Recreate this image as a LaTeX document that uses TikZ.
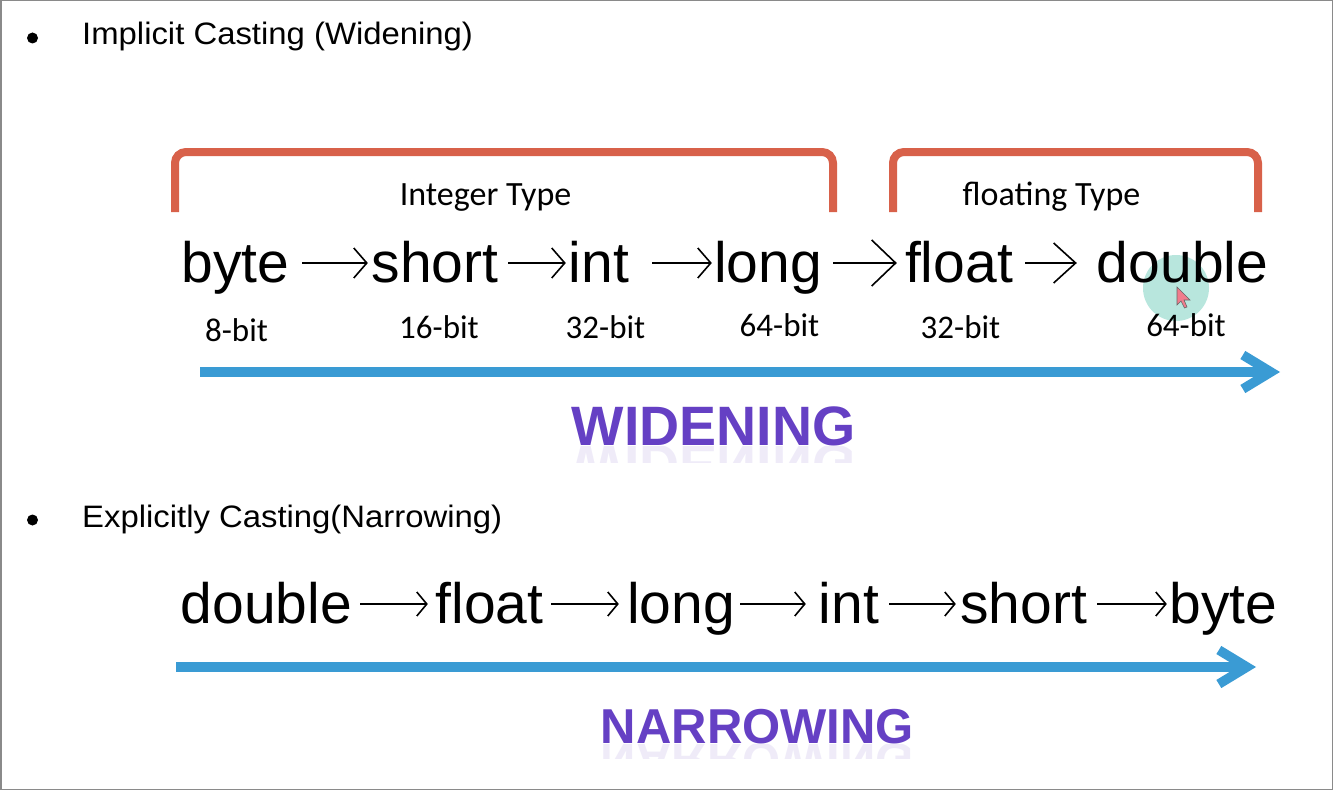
\documentclass[tikz,border=0pt]{standalone}
\usepackage{fontspec}
\setmainfont{Liberation Sans}
\newfontfamily\titlefont[FakeStretch=1.06]{Liberation Sans}
\newfontfamily\calfont{Carlito}
\usetikzlibrary{arrows.meta}
\definecolor{bracketred}{HTML}{D8614A}
\definecolor{arrowblue}{HTML}{3A9BD4}
\definecolor{wordpurple}{HTML}{6540C4}
\definecolor{cursorteal}{HTML}{62C9B5}
\definecolor{cursorpink}{HTML}{F07C8C}
\definecolor{framegray}{HTML}{8A8A8A}
\begin{document}
\begin{tikzpicture}[x=1pt,y=-1pt,
  title/.style={font=\titlefont\fontsize{31}{34}\selectfont, anchor=base west, inner sep=0},
  word/.style={font=\fontsize{57}{60}\selectfont, anchor=base, inner sep=0, text height=46pt, text depth=8pt},
  typelabel/.style={font=\calfont\fontsize{34}{38}\selectfont, anchor=base, inner sep=0},
  bitlabel/.style={font=\calfont\fontsize{33}{36}\selectfont, anchor=base, inner sep=0},
  bigword/.style={font=\bfseries\fontsize{55.5}{60}\selectfont, text=wordpurple, anchor=base, inner sep=0},
  thinarrow/.style={draw=black, line width=1.6pt},
  headA/.style={-{Straight Barb[length=13pt,width=30pt]}},
  headB/.style={-{Straight Barb[length=24pt,width=46pt]}},
  headC/.style={-{Straight Barb[length=22pt,width=40pt]}},
  headD/.style={-{Straight Barb[length=10pt,width=24pt]}},
  bracket/.style={draw=bracketred, line width=8pt, rounded corners=11pt},
  bluearrow/.style={draw=arrowblue, line width=9.5pt, -{Straight Barb[length=28pt,width=34pt]}},
  bullet/.style={circle, fill=black, inner sep=0, minimum size=11pt}
]
\fill[white] (0,0) rectangle (1334,792);
\useasboundingbox (0,0) rectangle (1334,792);
\draw[framegray, line width=1.5pt] (0.75,0.75) rectangle (1332.5,789.5);

% bullets and titles
\node[bullet] (b1) at (32.5,38) {};
\node[bullet] (b2) at (32.5,520) {};
\node[title] (t1) at (82,45) {Implicit Casting (Widening)};
\node[title] (t2) at (82,527) {Explicitly Casting(Narrowing)};

% brackets
\draw[bracket] (175,212) -- (175,152) -- (833,152) -- (833,212);
\draw[bracket] (893,212) -- (893,152) -- (1258,152) -- (1258,212);
\node[typelabel] (itype) at (485.5,205) {Integer Type};
\node[typelabel] (ftype) at (1051.5,205) {floating Type};

% cursor highlight
\fill[cursorteal, opacity=0.45] (1176,288) circle[radius=33];

% row 1 words
\node[word] (w1byte) at (235.5,282) {byte};
\node[word] (w1short) at (435,282) {short};
\node[word] (w1int) at (599,282) {int};
\node[word] (w1long) at (768,282) {long};
\node[word] (w1float) at (959,282) {float};
\node[word] (w1double) at (1182.5,282) {double};

\draw[thinarrow, headA] ([xshift=12.6pt]w1byte.east) -- ([xshift=-3.6pt]w1short.west);
\draw[thinarrow, headA] ([xshift=9.6pt]w1short.east) -- ([xshift=-2.9pt]w1int.west);
\draw[thinarrow, headA] ([xshift=22.9pt]w1int.east) -- ([xshift=-2.1pt]w1long.west);
\draw[thinarrow, headB] ([xshift=11.1pt]w1long.east) -- ([xshift=-8.1pt]w1float.west);
\draw[thinarrow, headC] ([xshift=12.1pt]w1float.east) -- ([xshift=-19.9pt]w1double.west);

% cursor pointer
\filldraw[fill=cursorpink, draw=black!60, line width=0.6pt] (1177,287) -- (1177,305) -- (1181,301) -- (1184.5,308) -- (1187,307) -- (1184,300) -- (1190,300) -- cycle;

% bit labels
\node[bitlabel] (bit8) at (236.5,341) {8-bit};
\node[bitlabel] (bit16) at (439,338) {16-bit};
\node[bitlabel] (bit32) at (605.5,338) {32-bit};
\node[bitlabel] (bit64) at (779.5,336) {64-bit};
\node[bitlabel] (bit32f) at (960.5,338) {32-bit};
\node[bitlabel] (bit64d) at (1186,336) {64-bit};

% widening arrow
\coordinate (wa) at (200,372);
\coordinate (wb) at (1280,372);
\draw[bluearrow] (wa) -- (wb);

\node[bigword] (widen) at (713.5,445) {WIDENING};
\begin{scope}
\clip (560,446) rectangle (870,462);
\begin{scope}[shift={(713.5,445)}, yscale=-1]
\node[bigword, transform shape, opacity=0.1] (widenr) at (0,0) {WIDENING};
\end{scope}
\end{scope}

% row 2 words
\node[word] (w2double) at (266.5,623) {double};
\node[word] (w2float) at (489.5,623) {float};
\node[word] (w2long) at (681,623) {long};
\node[word] (w2int) at (849,623) {int};
\node[word] (w2short) at (1023.5,623) {short};
\node[word] (w2byte) at (1223.5,623) {byte};

\draw[thinarrow, headD] ([xshift=7.9pt]w2double.east) -- ([xshift=-7.6pt]w2float.west);
\draw[thinarrow, headD] ([xshift=7.6pt]w2float.east) -- ([xshift=-8.1pt]w2long.west);
\draw[thinarrow, headD] ([xshift=5.1pt]w2long.east) -- ([xshift=-12.9pt]w2int.west);
\draw[thinarrow, headD] ([xshift=9.9pt]w2int.east) -- ([xshift=-4.1pt]w2short.west);
\draw[thinarrow, headD] ([xshift=10.1pt]w2short.east) -- ([xshift=-2.6pt]w2byte.west);

% narrowing arrow
\coordinate (na) at (176,667);
\coordinate (nb) at (1256,667);
\draw[bluearrow] (na) -- (nb);

\node[bigword, font=\bfseries\fontsize{49}{54}\selectfont] (narrow) at (757.5,743) {NARROWING};
\begin{scope}
\clip (590,744) rectangle (930,758);
\begin{scope}[shift={(757.5,743)}, yscale=-1]
\node[bigword, font=\bfseries\fontsize{49}{54}\selectfont, transform shape, opacity=0.1] (narrowr) at (0,0) {NARROWING};
\end{scope}
\end{scope}
\end{tikzpicture}
\end{document}
